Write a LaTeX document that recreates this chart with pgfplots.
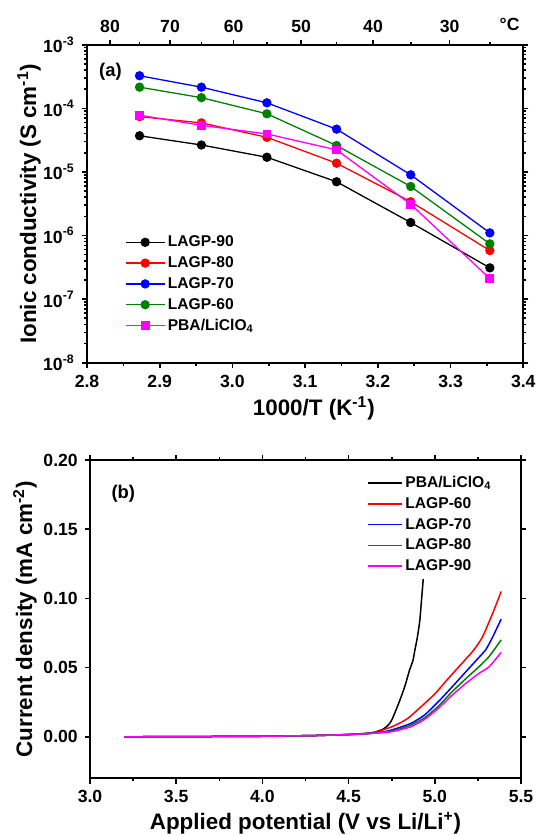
\documentclass[border=0pt]{standalone}
\usepackage{pgfplots}
\pgfplotsset{compat=1.18}
\usepackage{fontspec}
\setmainfont{Liberation Sans}
\definecolor{ogreen}{RGB}{0,128,0}
\definecolor{omag}{RGB}{255,0,255}
\definecolor{ored}{RGB}{255,0,0}
\definecolor{oblue}{RGB}{0,0,255}
\begin{document}
\begin{tikzpicture}
\useasboundingbox (0,0) rectangle (268pt,-417.5pt);
\pgfplotsset{
  every axis/.append style={
    scale only axis,
    axis line style={line width=0.85pt},
    tick style={line width=0.8pt, black},
    tick align=outside,
    major tick length=2.6pt,
    minor tick length=1.4pt,
    tick label style={font=\bfseries\fontsize{8.8}{10}\selectfont},
    label style={font=\bfseries\fontsize{11.2}{13}\selectfont},
    /pgf/number format/assume math mode=true,
  },
}
% ---------------- panel (a) ----------------
\begin{axis}[
  at={(43.5pt,-181.35pt)}, anchor=south west,
  width=218.15pt, height=159pt,
  ymode=log, xmin=2.8, xmax=3.4, ymin=1e-8, ymax=1e-3,
  xtick={2.8,2.9,3.0,3.1,3.2,3.3,3.4},
  minor xtick={2.85,2.95,3.05,3.15,3.25,3.35},
  xticklabel style={/pgf/number format/.cd,fixed,fixed zerofill,precision=1},
  ytick={1e-8,1e-7,1e-6,1e-5,1e-4,1e-3},
  yticklabels={10\textsuperscript{-8},10\textsuperscript{-7},10\textsuperscript{-6},10\textsuperscript{-5},10\textsuperscript{-4},10\textsuperscript{-3}},
  minor ytick={2e-8,3e-8,4e-8,5e-8,6e-8,7e-8,8e-8,9e-8,
               2e-7,3e-7,4e-7,5e-7,6e-7,7e-7,8e-7,9e-7,
               2e-6,3e-6,4e-6,5e-6,6e-6,7e-6,8e-6,9e-6,
               2e-5,3e-5,4e-5,5e-5,6e-5,7e-5,8e-5,9e-5,
               2e-4,3e-4,4e-4,5e-4,6e-4,7e-4,8e-4,9e-4},
  xtick pos=bottom, ytick pos=both, yticklabel pos=left,
  xlabel={1000/T (K\textsuperscript{-1})},
  ylabel={Ionic conductivity (S cm\textsuperscript{-1})},
  xlabel style={at={(axis description cs:0.52,-0.145)}, anchor=center},
  ylabel style={at={(axis description cs:-0.133,0.5)}, anchor=center},
  legend style={at={(axis description cs:0.086,0.411)}, anchor=north west,
    draw=none, fill=none, inner sep=0pt, row sep=0.5pt, column sep=0pt,
    font=\bfseries\fontsize{7.8}{9}\selectfont,
    nodes={inner sep=1.2pt, text height=6pt, text depth=1.5pt}},
  legend cell align=left,
  legend image code/.code={\draw[mark repeat=2,mark phase=2,#1] plot coordinates {(0pt,0pt) (9.8pt,0pt) (19.6pt,0pt)};},
  every axis plot/.append style={line width=0.65pt},
]
\addplot[black, mark=*, mark size=2pt, mark options={solid,fill=black}] coordinates {
 (2.8723,3.7e-5) (2.9573,2.65e-5) (3.0474,1.7e-5) (3.1432,7.0e-6) (3.2452,1.6e-6) (3.3540,3.1e-7)};
\addlegendentry{LAGP-90}
\addplot[ored, mark=*, mark size=2pt, mark options={solid,fill=ored}] coordinates {
 (2.8723,7.4e-5) (2.9573,5.9e-5) (3.0474,3.5e-5) (3.1432,1.37e-5) (3.2452,3.4e-6) (3.3540,5.8e-7)};
\addlegendentry{LAGP-80}
\addplot[oblue, mark=*, mark size=2pt, mark options={solid,fill=oblue}] coordinates {
 (2.8723,3.25e-4) (2.9573,2.15e-4) (3.0474,1.22e-4) (3.1432,4.7e-5) (3.2452,9.0e-6) (3.3540,1.1e-6)};
\addlegendentry{LAGP-70}
\addplot[ogreen, mark=*, mark size=2pt, mark options={solid,fill=ogreen}] coordinates {
 (2.8723,2.15e-4) (2.9573,1.47e-4) (3.0474,8.2e-5) (3.1432,2.6e-5) (3.2452,5.9e-6) (3.3540,7.4e-7)};
\addlegendentry{LAGP-60}
\addplot[omag, mark=square*, mark size=1.85pt, mark options={solid,fill=omag}] coordinates {
 (2.8723,7.8e-5) (2.9573,5.4e-5) (3.0474,3.95e-5) (3.1432,2.22e-5) (3.2452,3.1e-6) (3.3540,2.1e-7)};
\addlegendentry{PBA/LiClO\textsubscript{4}}
\node[font=\bfseries\fontsize{9.2}{10}\selectfont, anchor=west, inner sep=0pt] at (axis description cs:0.027,0.915) {(a)};
\end{axis}
% top temperature axis
\begin{axis}[
  at={(43.5pt,-181.35pt)}, anchor=south west,
  width=218.15pt, height=159pt,
  ymode=log, xmin=2.8, xmax=3.4, ymin=1e-8, ymax=1e-3,
  axis x line*=top, axis y line=none,
  xtick={2.83166,2.91418,3.00165,3.09454,3.19336,3.29870},
  xticklabels={80,70,60,50,40,30},
  minor xtick={2.87233,2.95727,3.04739,3.14317,3.24517,3.35402},
]
\addplot[draw=none] coordinates {(3.0,1e-5)};
\end{axis}
\node[font=\bfseries\fontsize{8.8}{10}\selectfont] at (254.8pt,-12pt) {°C};
% ---------------- panel (b) ----------------
\begin{axis}[
  at={(45pt,-389.15pt)}, anchor=south west,
  width=215.5pt, height=159.15pt,
  xmin=3, xmax=5.5, ymin=-0.03, ymax=0.2,
  xtick={3,3.5,4,4.5,5,5.5},
  minor xtick={3.25,3.75,4.25,4.75,5.25},
  ytick={0,0.05,0.1,0.15,0.2},
  xtick pos=both, xticklabel pos=lower,
  ytick pos=both, yticklabel pos=left,
  xticklabel style={/pgf/number format/.cd,fixed,fixed zerofill,precision=1},
  yticklabel style={/pgf/number format/.cd,fixed,fixed zerofill,precision=2},
  xlabel={Applied potential (V vs Li/Li\textsuperscript{+})},
  ylabel={Current density (mA cm\textsuperscript{-2})},
  xlabel style={at={(axis description cs:0.5,-0.140)}, anchor=center},
  ylabel style={at={(axis description cs:-0.151,0.5)}, anchor=center},
  legend style={at={(axis description cs:0.643,0.960)}, anchor=north west,
    draw=none, fill=none, inner sep=0pt, row sep=0.5pt, column sep=0pt,
    font=\bfseries\fontsize{7.8}{9}\selectfont,
    nodes={inner sep=1.2pt, text height=6pt, text depth=1.5pt}},
  legend cell align=left,
  legend image code/.code={\draw[#1] (0pt,0pt) -- (17pt,0pt);},
  every axis plot/.append style={line width=0.75pt, smooth, tension=0.35},
]
\addplot[black] coordinates {
 (3.2,0) (3.5,0.0001) (4.0,0.0004) (4.3,0.0009) (4.5,0.0017) (4.6,0.0025) (4.65,0.0033)
 (4.70,0.0055) (4.73,0.0085) (4.75,0.012) (4.79,0.024) (4.825,0.036) (4.853,0.048)
 (4.873,0.055) (4.885,0.063) (4.899,0.072) (4.913,0.084) (4.923,0.099) (4.933,0.114)};
\addlegendentry{PBA/LiClO\textsubscript{4}}
\addplot[ored] coordinates {
 (3.2,0) (3.5,0.0001) (4.0,0.0004) (4.3,0.0009) (4.5,0.0016) (4.6,0.0022) (4.66,0.0034)
 (4.76,0.0077) (4.84,0.013) (4.92,0.0217) (5.0,0.031) (5.077,0.042) (5.157,0.053)
 (5.226,0.0627) (5.276,0.072) (5.335,0.089) (5.385,0.105)};
\addlegendentry{LAGP-60}
\addplot[oblue] coordinates {
 (3.2,0) (3.5,0.0001) (4.0,0.0004) (4.3,0.0009) (4.5,0.0016) (4.6,0.0022) (4.70,0.0035)
 (4.76,0.0053) (4.86,0.0096) (4.94,0.0157) (5.02,0.0253) (5.10,0.036) (5.18,0.047)
 (5.246,0.056) (5.296,0.063) (5.335,0.072) (5.385,0.085)};
\addlegendentry{LAGP-70}
\addplot[ogreen] coordinates {
 (3.2,0) (3.5,0.0001) (4.0,0.0004) (4.3,0.0009) (4.5,0.0016) (4.6,0.0022) (4.70,0.0033)
 (4.76,0.0043) (4.86,0.0084) (4.94,0.0137) (5.02,0.022) (5.10,0.0325) (5.18,0.042)
 (5.256,0.0506) (5.315,0.058) (5.385,0.070)};
\addlegendentry{LAGP-80}
\addplot[omag] coordinates {
 (3.2,0) (3.5,0.0001) (4.0,0.0004) (4.3,0.0009) (4.5,0.0016) (4.6,0.0022) (4.70,0.003)
 (4.76,0.0039) (4.86,0.0072) (4.94,0.0125) (5.02,0.0205) (5.10,0.030) (5.18,0.0386)
 (5.256,0.0458) (5.315,0.0506) (5.385,0.061)};
\addlegendentry{LAGP-90}
\node[font=\bfseries\fontsize{9.2}{10}\selectfont, anchor=west, inner sep=0pt] at (axis description cs:0.049,0.893) {(b)};
\end{axis}
\end{tikzpicture}
\end{document}
